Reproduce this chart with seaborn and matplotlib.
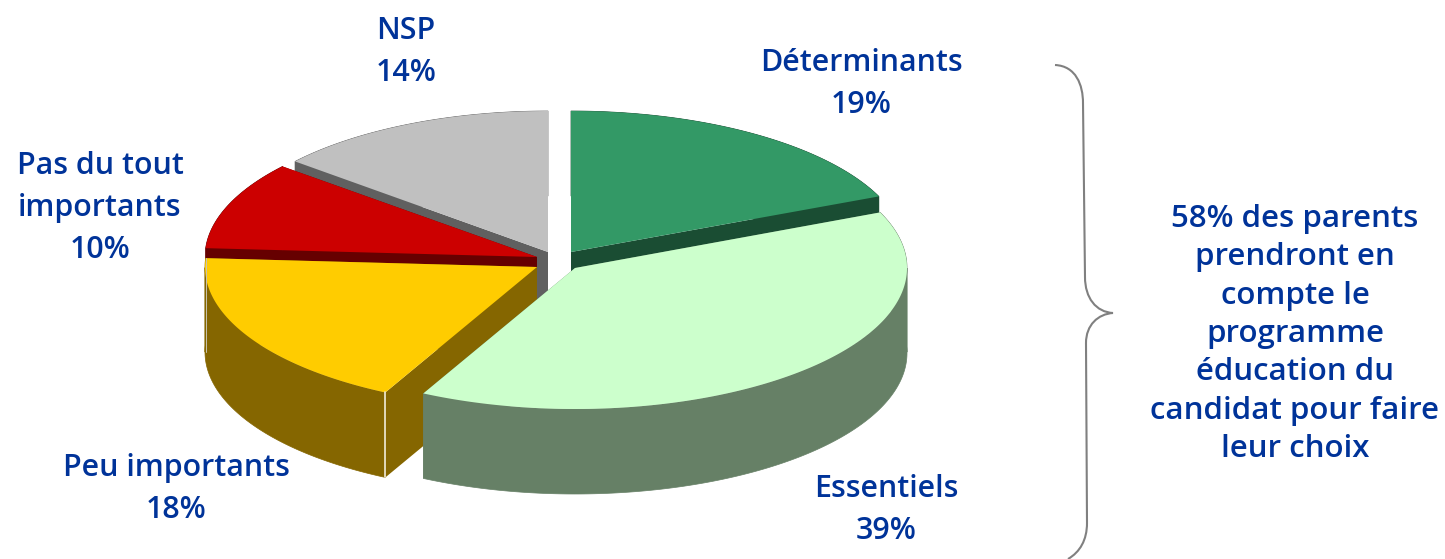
import numpy as np
import seaborn as sns
import matplotlib.pyplot as plt
from matplotlib.path import Path
from matplotlib.patches import PathPatch

# donnees
categories = ["Déterminants", "Essentiels", "Peu importants", "Pas du tout importants", "NSP"]
shares = [18.55, 39.0, 18.45, 10.1, 13.9]
note_lines = ["58% des parents", "prendront en", "compte le", "programme",
              "éducation du", "candidat pour faire", "leur choix"]

# couleurs dessus / cotes
top_colors = sns.color_palette(["#339966", "#CCFFCC", "#FFCC00", "#CC0000", "#C0C0C0"])
side_colors = sns.color_palette(["#1A4D33", "#668066", "#856600", "#660000", "#606060"])

# mise en page de la part (pixels)
centers = [(571, 252), (575, 268), (537, 267), (537, 257), (548, 252)]
rx = [335, 332, 332, 332, 330]
ry = 141
depth = 85
draw_order = [4, 0, 3, 2, 1]

# lignes de texte de chaque etiquette : centre x, y de la premiere ligne
label_lines = [["Déterminants"], ["Essentiels"], ["Peu importants"],
               ["Pas du tout", "importants"], ["NSP"]]
label_pos = [(861, 63), (886, 489), (176, 468), (100, 166), (406, 31)]
blue = "#003399"

sns.set_theme(style="white")
plt.rcParams['font.family'] = ['Open Sans', 'DejaVu Sans']

fig, ax = plt.subplots(figsize=(14.45, 5.59), dpi=100)
fig.subplots_adjust(0, 0, 1, 1)
ax.set_xlim(0, 1445)
ax.set_ylim(559, 0)
ax.axis("off")

# angles cumules, sens horaire depuis midi
edges = np.radians(np.concatenate([[0], np.cumsum(shares)]) * 3.6)


def rim(i, t):
    cx, cy = centers[i]
    return cx + rx[i] * np.sin(t), cy - ry * np.cos(t)


for i in draw_order:
    cx, cy = centers[i]
    t = np.linspace(edges[i], edges[i + 1], 400)
    x, y = rim(i, t)
    # volume du cote : on coupe l'arc la ou x change de sens, sinon le polygone s'annule
    turns = np.where(np.diff(np.sign(np.diff(x))) != 0)[0] + 1
    for xs, ys in zip(np.split(x, turns), np.split(y, turns)):
        ax.fill(np.r_[xs, xs[::-1]], np.r_[ys, ys[::-1] + depth], color=side_colors[i], lw=0.5)
    for k in (0, -1):
        ax.fill([cx, x[k], x[k], cx], [cy, y[k], y[k] + depth, cy + depth],
                color=side_colors[i], lw=0)
    # dessus
    ax.fill(np.r_[cx, x], np.r_[cy, y], color=top_colors[i], lw=0)
    # filet clair sur l'arete de la part jaune
    if i == 2:
        ax.plot([x[0], x[0]], [y[0], y[0] + depth], color="#F0EBD8", lw=1.2)
        ax.plot([x[-1], x[-1]], [y[-1], y[-1] + depth * 1.1], color="#C9C4B0", lw=0.7)

# etiquettes
for lines, pct, (lx, ly) in zip(label_lines, shares, label_pos):
    for n, txt in enumerate(lines + [f"{round(pct)}%"]):
        ax.text(lx, ly + n * 42, txt, color=blue, fontsize=21.9, fontweight=600,
                ha="center", va="center")

# accolade
brace = [(1055, 65), (1076, 66), (1083, 85), (1083, 103), (1085, 277),
         (1085, 298), (1096, 312), (1113, 313), (1098, 314), (1086, 325), (1086, 343),
         (1087, 523), (1087, 540), (1080, 552), (1068, 559)]
codes = [Path.MOVETO, Path.CURVE4, Path.CURVE4, Path.CURVE4, Path.LINETO,
         Path.CURVE4, Path.CURVE4, Path.CURVE4, Path.CURVE4, Path.CURVE4, Path.CURVE4,
         Path.LINETO, Path.CURVE4, Path.CURVE4, Path.CURVE4]
ax.add_patch(PathPatch(Path(brace, codes), fill=False, edgecolor="#808080", lw=1.5))

# note de droite
for n, txt in enumerate(note_lines):
    ax.text(1295, 219 + n * 38.3, txt, color=blue, fontsize=22.5, fontweight=600,
            ha="center", va="center")

fig.savefig("out.png", dpi=100)
